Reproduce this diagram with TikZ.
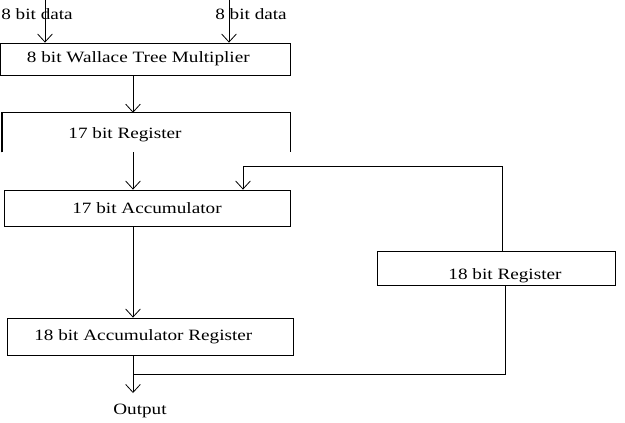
\documentclass[tikz,border=0pt]{standalone}
\usepackage{fontspec}
\setmainfont{Liberation Serif}[FakeStretch=1.22]
\usetikzlibrary{arrows.meta}
\tikzset{
  blk/.style={draw, line width=0.6pt, inner sep=0pt, font=\fontsize{11.8}{13}\selectfont},
  lbl/.style={inner sep=0pt, font=\fontsize{11.8}{13}\selectfont},
  flow/.style={line width=0.6pt, -{Straight Barb[length=6pt,width=11pt]}},
  wire/.style={line width=0.6pt},
}

\begin{document}
\begin{tikzpicture}[x=0.75pt,y=-0.75pt]
  \useasboundingbox (0,0) rectangle (625,422);
  % Eingaenge
  \node[lbl] (inA) at (37,14) {8 bit data};
  \node[lbl] (inB) at (251,14) {8 bit data};
  \coordinate (a1) at (45,0);
  \coordinate (a2) at (229,0);
  % Bloecke
  \node[blk, minimum width=217.5pt, minimum height=24pt] (mult) at (145,59) {\hspace*{-10pt}8 bit Wallace Tree Multiplier};
  \node[minimum width=216pt, minimum height=29.25pt, inner sep=0pt] (reg17) at (146,132.5) {};
  \node[lbl] (reg17txt) at (125,135) {17 bit Register};
  \node[blk, minimum width=214.5pt, minimum height=27pt] (acc17) at (147,208) {17 bit Accumulator};
  \node[blk, minimum width=178.5pt, minimum height=25.5pt] (reg18) at (496,268) {};
  \node[lbl] (reg18txt) at (505,276) {18 bit Register};
  \node[blk, minimum width=214.5pt, minimum height=27.75pt] (accreg) at (150,336.5) {\hspace*{-10pt}18 bit Accumulator Register};
  \node[lbl] (out) at (140,411) {Output};
  % Register ohne Unterkante
  \draw[wire] (reg17.south west) |- (reg17.north) -| (reg17.south east);
  \draw[line width=1.2pt] (reg17.south west) -- (reg17.north west);
  % Datenpfad
  \coordinate (spine) at (133,0);
  \coordinate (outtip) at (133,393);
  \draw[flow] (a1) -- (a1 |- mult.north);
  \draw[flow] (a2) -- (a2 |- mult.north);
  \draw[flow] (spine |- mult.south) -- (spine |- reg17.north);
  \draw[flow] (spine |- reg17.south) -- (spine |- acc17.north);
  \draw[flow] (spine |- acc17.south) -- (spine |- accreg.north);
  \draw[flow] (spine |- accreg.south) -- (outtip);
  % Rueckkopplung
  \coordinate (fbtop) at (502,166);
  \coordinate (fbin) at (243,0);
  \coordinate (obot) at (505,374);
  \draw[flow] (fbtop |- reg18.north) -- (fbtop) -| (fbin |- acc17.north);
  \draw[wire] (obot |- reg18.south) -- (obot) -- (spine |- obot);
\end{tikzpicture}
\end{document}
